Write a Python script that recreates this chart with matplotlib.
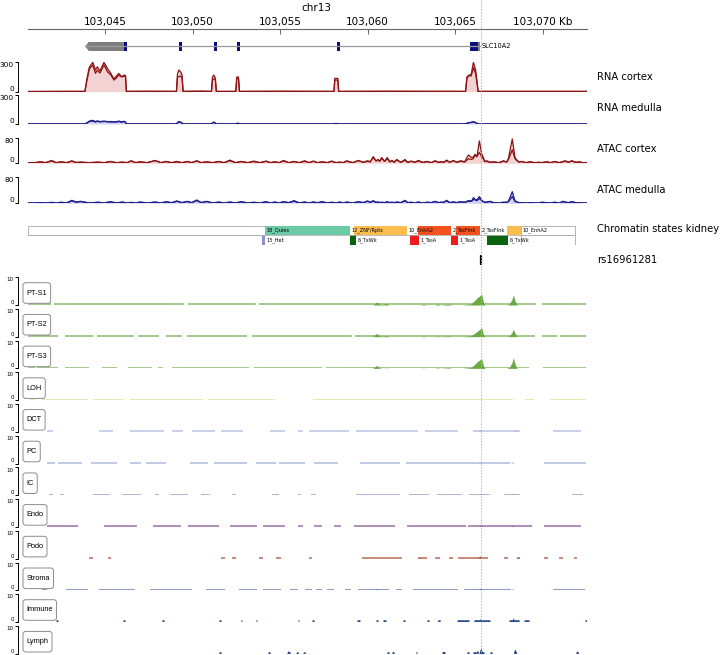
import matplotlib
matplotlib.use("Agg")
import numpy as np
from matplotlib import pyplot as plt
from matplotlib.patches import Rectangle, Polygon, FancyBboxPatch

plt.rcParams["font.family"] = ["DejaVu Sans"]

W, H = 720, 655

# --- data: positions are kb past chr13:103,000 kb --------------------------
X_RANGE = (40.58, 72.54)
TICK_POS = [45, 50, 55, 60, 65, 70]
TICK_LABELS = ["103,045", "103,050", "103,055", "103,060", "103,065", "103,070 Kb"]
SNP_POS = 66.49
SNP_NAME = "rs16961281"

GENE_NAME = "SLC10A2"
GENE_START, GENE_END = 43.87, 66.40
UTR_START = [43.87, 66.29]
UTR_END = [46.10, 66.40]
EXON_START = [46.10, 49.23, 51.23, 52.56, 58.26, 65.86]
EXON_END = [46.25, 49.38, 51.38, 52.70, 58.40, 66.29]

RNA_POS = [40.6, 43.0, 43.85, 43.95, 44.1, 44.3, 44.45, 44.56, 44.71, 44.94,
           45.13, 45.33, 45.51, 45.65, 45.78, 45.95, 46.09, 46.17, 46.22, 47.5,
           49.08, 49.14, 49.22, 49.32, 49.40, 49.46, 50.5, 51.08, 51.14, 51.22,
           51.30, 51.36, 52.47, 52.53, 52.62, 52.68, 55.0, 58.08, 58.13, 58.30,
           58.35, 61.0, 65.60, 65.68, 65.80, 65.92, 66.05, 66.18, 66.32, 70.0,
           72.55]
RNA_CTX_R1 = [2, 3, 3, 120, 250, 300, 222, 255, 211, 300,
              239, 187, 130, 160, 187, 153, 170, 165, 3, 4,
              3, 180, 222, 200, 170, 3, 5, 3, 150, 170,
              140, 3, 3, 150, 150, 3, 4, 3, 136, 136,
              3, 4, 3, 150, 170, 175, 300, 220, 3, 3,
              3]
RNA_CTX_R2 = [2, 3, 3, 100, 230, 273, 187, 220, 190, 273,
              205, 170, 119, 140, 170, 150, 160, 150, 3, 4,
              3, 150, 153, 160, 140, 3, 5, 3, 120, 130,
              125, 3, 3, 140, 145, 3, 4, 3, 119, 119,
              3, 4, 3, 140, 164, 160, 245, 180, 3, 3,
              3]
RNA_MED_R1 = [1, 1, 1, 10, 30, 38, 25, 32, 25, 30,
              22, 26, 20, 25, 30, 22, 28, 20, 1, 1,
              1, 15, 25, 20, 10, 1, 1, 1, 12, 20,
              10, 1, 1, 6, 8, 1, 1, 1, 5, 5,
              1, 1, 1, 8, 15, 15, 25, 15, 1, 1,
              1]
RNA_MED_R2 = [1, 1, 1, 8, 25, 30, 20, 28, 22, 26,
              26, 20, 24, 20, 25, 18, 24, 18, 1, 1,
              1, 12, 20, 15, 8, 1, 1, 1, 10, 15,
              8, 1, 1, 5, 6, 1, 1, 1, 4, 4,
              1, 1, 1, 6, 12, 18, 20, 12, 1, 1,
              1]

ATAC_POS = [40.6, 41.0, 41.3, 41.6, 41.95, 42.2, 42.5, 42.8, 43.1, 43.35,
            43.6, 44.1, 44.6, 44.95, 45.3, 45.65, 46.0, 46.25, 46.5, 46.75,
            47.0, 47.4, 47.86, 48.2, 48.5, 48.8, 49.1, 49.4, 49.7, 49.95,
            50.24, 50.5, 50.8, 51.15, 51.5, 51.8, 52.14, 52.45, 52.8, 53.15,
            53.5, 53.85, 54.2, 54.45, 54.7, 54.95, 55.2, 55.5, 55.8, 56.1,
            56.4, 56.65, 56.9, 57.15, 57.4, 57.7, 57.95, 58.2, 58.4, 58.6,
            58.81, 59.15, 59.48, 59.75, 60.0, 60.15, 60.33, 60.48, 60.6, 60.7,
            60.81, 60.97, 61.13, 61.27, 61.4, 61.52, 61.67, 61.9, 62.14, 62.3,
            62.5, 62.7, 62.9, 63.15, 63.4, 63.65, 63.86, 64.05, 64.2, 64.35,
            64.52, 64.7, 64.9, 65.1, 65.3, 65.55, 65.76, 65.95, 66.05, 66.14,
            66.25, 66.39, 66.52, 66.6, 66.7, 66.81, 67.0, 67.2, 67.5, 67.76,
            67.95, 68.05, 68.27, 68.42, 68.5, 68.65, 68.81, 69.05, 69.29, 69.55,
            69.8, 69.95, 70.24, 70.45, 70.7, 70.95, 71.19, 71.29, 71.48, 71.67,
            71.9, 72.1, 72.3, 72.55]
ATAC_CTX_R1 = [2, 2, 5, 2, 9, 2, 4, 2, 8, 2,
               3, 2, 4, 2, 5, 2, 4, 2, 8, 2,
               5, 2, 9, 2, 5, 2, 6, 2, 5, 2,
               8, 2, 5, 2, 6, 2, 10, 2, 5, 2,
               7, 2, 6, 2, 5, 2, 9, 2, 6, 2,
               8, 2, 6, 2, 4, 2, 7, 2, 4, 2,
               8, 2, 8, 3, 6, 4, 21, 7, 10, 6,
               16, 6, 18, 4, 8, 3, 10, 3, 12, 3,
               6, 3, 7, 2, 5, 2, 7, 3, 5, 3,
               10, 3, 8, 3, 6, 4, 14, 12, 15, 26,
               20, 70, 30, 20, 6, 8, 3, 4, 2, 8,
               4, 15, 76, 20, 12, 4, 6, 2, 5, 2,
               3, 2, 4, 2, 5, 2, 6, 8, 4, 7,
               3, 5, 2, 2]
ATAC_CTX_R2 = [2, 2, 4, 2, 7, 2, 5, 2, 6, 3,
               4, 2, 3, 2, 6, 2, 3, 2, 7, 2,
               4, 2, 8, 2, 6, 2, 4, 2, 6, 2,
               7, 2, 4, 2, 5, 2, 8, 2, 6, 2,
               5, 2, 7, 2, 4, 2, 7, 2, 5, 2,
               6, 2, 7, 2, 5, 2, 6, 2, 3, 2,
               6, 2, 9, 3, 8, 5, 18, 8, 12, 7,
               18, 6, 14, 5, 9, 4, 12, 3, 9, 3,
               7, 3, 9, 3, 6, 2, 8, 3, 4, 3,
               8, 3, 9, 3, 8, 5, 26, 18, 20, 28,
               22, 34, 20, 15, 5, 6, 3, 5, 2, 6,
               4, 12, 42, 15, 10, 4, 5, 2, 4, 2,
               3, 2, 5, 2, 6, 2, 5, 6, 3, 8,
               3, 4, 2, 2]
ATAC_MED_R1 = [1, 1, 2, 1, 3, 1, 3, 1, 9, 4,
               6, 1, 3, 1, 5, 1, 3, 1, 3, 1,
               4, 1, 3, 1, 5, 2, 7, 2, 6, 2,
               10, 2, 6, 1, 3, 1, 4, 1, 4, 1,
               3, 1, 5, 1, 3, 1, 5, 2, 8, 1,
               3, 1, 4, 2, 5, 1, 3, 1, 3, 1,
               4, 1, 4, 2, 7, 3, 8, 3, 4, 2,
               3, 2, 4, 2, 3, 2, 4, 2, 9, 2,
               3, 1, 3, 1, 3, 2, 6, 2, 3, 3,
               9, 2, 4, 2, 4, 3, 8, 7, 17, 12,
               10, 20, 10, 6, 3, 4, 6, 2, 1, 3,
               3, 6, 35, 8, 5, 2, 2, 1, 2, 1,
               1, 3, 2, 1, 3, 1, 6, 4, 2, 5,
               2, 2, 1, 1]
ATAC_MED_R2 = [1, 1, 2, 1, 2, 1, 3, 1, 7, 3,
               5, 1, 3, 1, 4, 1, 4, 1, 2, 1,
               3, 1, 4, 1, 4, 1, 6, 2, 5, 2,
               8, 2, 5, 1, 4, 1, 3, 1, 5, 1,
               3, 1, 4, 1, 4, 1, 4, 2, 6, 1,
               4, 1, 3, 1, 4, 1, 3, 1, 4, 1,
               3, 1, 5, 2, 6, 3, 6, 3, 3, 2,
               3, 2, 5, 2, 3, 2, 3, 2, 7, 2,
               3, 1, 4, 1, 3, 2, 5, 2, 3, 3,
               7, 2, 4, 2, 5, 3, 6, 6, 12, 10,
               8, 14, 8, 5, 3, 3, 5, 2, 1, 3,
               3, 5, 20, 6, 4, 2, 2, 1, 2, 1,
               1, 3, 2, 1, 3, 1, 5, 3, 2, 4,
               2, 2, 1, 1]

# chromatin states (18-state model), two display rows
ROW1_START = [40.58, 54.14, 59.23, 62.89, 65.06, 67.97, 68.77]
ROW1_END = [54.14, 59.00, 62.26, 64.77, 66.43, 68.77, 71.86]
ROW1_STATE = ["18_Quies", "12_ZNF/Rpts", "10_EnhA2", "2_TssFlnk", "2_TssFlnk",
              "10_EnhA2", "18_Quies"]
ROW2_START = [53.97, 59.00, 62.43, 64.77, 66.83, 68.77]
ROW2_END = [54.14, 59.34, 62.94, 65.17, 68.03, 71.86]
ROW2_STATE = ["13_Het", "6_TxWk", "1_TssA", "1_TssA", "6_TxWk", "18_Quies"]
STATE_COLORS = {"1_TssA": "#ee1c1c", "2_TssFlnk": "#f4511e", "6_TxWk": "#0a640f",
                "10_EnhA2": "#fbbd4e", "12_ZNF/Rpts": "#6acba6",
                "13_Het": "#8d92cc", "18_Quies": "#ffffff"}

# single-cell ATAC (0-10 scale)
CELL_TYPES = ["PT-S1", "PT-S2", "PT-S3", "LOH", "DCT", "PC", "IC", "Endo",
              "Podo", "Stroma", "Immune", "Lymph"]
CELL_COLORS = ["#6aaa45", "#6aaa45", "#6aaa45", "#cfdf85", "#a7b4de", "#98aad4",
               "#8f80c4", "#7d4c8f", "#a8442e", "#445f9f", "#264b8c", "#1c3a7c"]

PT_POS = [60.30, 60.52, 60.72, 60.90, 61.06, 61.25, 63.05, 63.19, 63.35, 63.85,
          63.99, 64.15, 64.55, 64.68, 64.82, 65.40, 65.86, 66.05, 66.24, 66.35,
          66.52, 66.62, 66.72, 67.95, 68.10, 68.25, 68.33, 68.45, 68.56]
PT_S1 = [0, 1.1, 0.2, 0.2, 0.7, 0, 0, 0.3, 0, 0,
         0.4, 0, 0.3, 0.3, 0, 0, 0.3, 1.2, 2.4, 3.0,
         4.0, 1.0, 0, 0, 0.4, 2.0, 3.6, 1.2, 0]
PT_S2 = [0, 1.2, 0.2, 0.1, 0.4, 0, 0, 0.2, 0, 0,
         0.2, 0, 0.2, 0.2, 0, 0, 0.3, 0.9, 1.8, 2.3,
         3.3, 0.8, 0, 0, 0.3, 1.5, 2.7, 1.0, 0]
PT_S3 = [0, 1.1, 0.1, 0, 0.1, 0, 0, 0.1, 0, 0,
         0.2, 0, 0.2, 0.2, 0, 0, 0.3, 1.0, 2.2, 2.8,
         3.6, 1.0, 0, 0, 0.4, 2.0, 3.9, 1.2, 0]

SEG_PT_S1 = [(40.6, 41.9), (42.1, 49.5), (49.75, 53.6), (53.8, 69.65), (69.95, 72.5)]
SEG_PT_S2 = [(40.6, 42.3), (42.7, 44.3), (44.55, 46.65), (46.9, 48.1), (48.5, 49.4),
             (49.7, 53.1), (53.4, 59.1), (59.3, 69.55), (69.95, 70.8), (71.0, 72.5)]
SEG_PT_S3 = [(40.6, 41.0), (41.1, 42.3), (42.7, 44.1), (44.8, 45.7), (46.3, 47.7),
             (48.0, 48.3), (48.8, 53.2), (53.5, 57.4), (57.65, 69.25), (70.05, 72.5)]
SEG_LOH = [(40.7, 41.0), (41.4, 44.0), (44.3, 46.1), (46.4, 50.6), (50.9, 54.7),
           (56.9, 68.3), (69.0, 69.5), (70.4, 72.5)]
SEG_DCT = [(41.71, 42.02), (44.63, 45.46), (46.41, 48.39), (48.81, 49.43), (49.95, 51.31),
           (51.63, 52.88), (54.44, 55.28), (56.01, 56.32), (56.64, 58.93), (59.35, 62.90),
           (63.31, 65.19), (66.03, 68.74), (70.62, 72.19)]
SEG_PC = [(41.71, 42.12), (42.33, 43.69), (44.21, 45.67), (46.41, 47.03), (47.34, 48.49),
          (49.85, 50.89), (51.21, 53.09), (53.61, 54.76), (54.96, 56.43), (56.95, 58.31),
          (59.56, 61.85), (62.17, 68.12), (70.10, 72.5)]
SEG_IC = [(41.81, 42.02), (42.44, 42.65), (44.32, 45.26), (45.99, 47.03), (47.87, 48.08),
          (48.70, 49.75), (50.48, 51.0), (52.25, 52.46), (54.55, 54.96), (56.01, 56.22),
          (56.74, 57.05), (59.35, 61.85), (62.38, 63.52), (63.94, 65.4), (65.82, 66.97),
          (67.8, 68.74), (71.67, 72.29)]
SEG_ENDO = [(41.71, 43.48), (44.94, 46.82), (47.76, 49.33), (49.75, 51.52), (52.15, 53.71),
            (54.03, 55.28), (56.01, 56.32), (56.95, 57.37), (58.1, 58.51), (59.24, 61.54),
            (62.27, 65.61), (65.72, 69.37), (70.1, 72.19)]
SEG_PODO = [(44.11, 44.32), (45.15, 45.36), (51.63, 51.83), (52.25, 52.46), (53.82, 54.03),
            (54.76, 55.07), (56.64, 56.84), (59.66, 61.96), (62.9, 63.42), (63.84, 64.15),
            (64.67, 64.88), (65.19, 66.86), (67.8, 68.01), (68.53, 68.74), (70.1, 70.31),
            (70.94, 71.14), (71.77, 71.98)]
SEG_STROMA = [(41.4, 41.71), (42.75, 44.0), (44.63, 46.72), (47.55, 49.95), (50.79, 51.83),
              (52.67, 53.71), (54.03, 55.07), (55.59, 56.01), (56.43, 56.84), (57.05, 57.37),
              (57.68, 58.1), (58.72, 59.03), (59.45, 61.23), (61.65, 61.96), (62.59, 65.19),
              (65.51, 68.22), (70.62, 72.4)]
SEG_IMMUNE = [(42.2, 42.3), (46.05, 46.15), (48.25, 48.35), (51.5, 51.6), (52.75, 52.85),
              (53.6, 53.7), (56.0, 56.1), (56.8, 56.95), (59.4, 59.55), (60.5, 60.6),
              (60.9, 61.05), (62.05, 62.15), (63.4, 63.5), (64.0, 64.15), (65.1, 65.8),
              (66.1, 67.0), (68.1, 68.65), (68.95, 69.2), (72.45, 72.52)]
SEG_LYMPH = [(51.5, 51.6), (54.3, 54.4), (55.45, 55.55), (55.95, 56.05), (56.35, 56.45),
             (61.1, 61.2), (61.4, 61.5), (62.75, 62.85), (64.3, 64.4), (65.7, 65.8),
             (66.05, 66.2), (66.4, 66.65), (67.0, 67.1), (68.4, 68.5), (71.95, 72.05)]

PEAK_DCT = [(66.45, 0.6), (68.45, 0.4)]
PEAK_PC = [(66.45, 0.3), (68.3, 0.4)]
PEAK_IC = [(66.5, 0.5), (68.3, 0.3)]
PEAK_ENDO = [(66.5, 0.6), (68.3, 0.3)]
PEAK_PODO = [(63.0, 0.3), (66.45, 0.8), (68.6, 0.3)]
PEAK_STROMA = [(60.5, 0.4), (66.45, 0.6), (68.3, 0.3)]
PEAK_IMMUNE = [(64.1, 0.5), (65.6, 0.4), (66.2, 0.6), (66.45, 1.0), (68.35, 1.3), (68.6, 0.6)]
PEAK_LYMPH = [(55.5, 0.9), (56.0, 0.5), (56.4, 0.5), (64.35, 0.8), (66.3, 1.0),
              (66.5, 2.0), (68.45, 1.5), (72.0, 0.8)]

CTX_LINE, CTX_FILL = "#8c1414", "#f2d2d2"
MED_LINE, MED_FILL = "#1e1e8e", "#cfd3ef"

# --- layout helpers (pixel boxes, origin top-left) ------------------------
X0_PX, X1_PX = 27.7, 587.0

fig = plt.figure(figsize=(W / 100, H / 100), dpi=100)


def px_axes(y0, y1, x0=X0_PX, x1=X1_PX):
    ax = fig.add_axes([x0 / W, 1 - y1 / H, (x1 - x0) / W, (y1 - y0) / H])
    ax.set_xlim(*X_RANGE)
    ax.patch.set_alpha(0)
    return ax


def right_label(text, y):
    fig.text(597 / W, 1 - y / H, text, fontsize=7.2, va="center", ha="left")


def bracket(ax, ymax, labelsize, outward=7, ticklen=2.0):
    ax.set_ylim(0, ymax)
    for s in ("top", "right", "bottom"):
        ax.spines[s].set_visible(False)
    ax.spines["left"].set_position(("outward", outward))
    ax.spines["left"].set_linewidth(0.7)
    ax.set_xticks([])
    ax.set_yticks([0, ymax], ["0", str(ymax)])
    ax.tick_params(axis="y", length=ticklen, width=0.7, labelsize=labelsize, pad=0.8)
    lo, hi = ax.get_yticklabels()
    lo.set_va("bottom")
    hi.set_va("top")


# --- ruler ------------------------------------------------------------------
fig.text(316 / W, 1 - 8 / H, "chr13", fontsize=7.5, ha="center", va="center")
axr = px_axes(28.6, 29.4)
for s in ("left", "right", "top"):
    axr.spines[s].set_visible(False)
axr.spines["bottom"].set_color("#666666")
axr.spines["bottom"].set_linewidth(0.8)
axr.set_yticks([])
axr.set_xticks(TICK_POS, TICK_LABELS)
axr.tick_params(axis="x", direction="out", length=3.5, width=0.7, color="#666666",
                bottom=True, top=False, labelbottom=False, labeltop=True,
                labelsize=7.5, pad=-2.4)

# --- gene -------------------------------------------------------------------
axg = px_axes(41.7, 51.0)
axg.axis("off")
axg.set_ylim(0, 1)
axg.plot([GENE_START, GENE_END], [0.5, 0.5], color="#9a9a9a", lw=0.9)
s, e = UTR_START[0], UTR_END[0]
axg.add_patch(Polygon([(s, 0.5), (s + 0.2, 1), (e, 1), (e, 0), (s + 0.2, 0)],
                      closed=True, fc="#7f7f7f", ec="none"))
axg.add_patch(Rectangle((UTR_START[1], 0), UTR_END[1] - UTR_START[1], 1,
                        fc="#7f7f7f", ec="none"))
for s, e in zip(EXON_START, EXON_END):
    axg.add_patch(Rectangle((s, 0), e - s, 1, fc="#0c0c82", ec="none"))
axg.annotate(GENE_NAME, (GENE_END, 0.5), xytext=(1.5, 0), textcoords="offset points",
             fontsize=4.8, va="center", ha="left", annotation_clip=False)

# --- bulk RNA / ATAC tracks -------------------------------------------------
bulk = [
    ("RNA cortex", RNA_POS, RNA_CTX_R1, RNA_CTX_R2, 300, CTX_LINE, CTX_FILL, 62.3, 91.7, 76.7),
    ("RNA medulla", RNA_POS, RNA_MED_R1, RNA_MED_R2, 300, MED_LINE, MED_FILL, 95.0, 124.0, 108),
    ("ATAC cortex", ATAC_POS, ATAC_CTX_R1, ATAC_CTX_R2, 80, CTX_LINE, CTX_FILL, 137.7, 163.3, 149),
    ("ATAC medulla", ATAC_POS, ATAC_MED_R1, ATAC_MED_R2, 80, MED_LINE, MED_FILL, 176.7, 203.3, 190),
]
for name, pos, r1, r2, ymax, lc, fc, y0, y1, ly in bulk:
    ax = px_axes(y0, y1)
    bracket(ax, ymax, 5.4)
    ax.fill_between(pos, np.maximum(r1, r2), color=fc, lw=0)
    ax.plot(pos, r2, color=lc, lw=0.9)
    ax.plot(pos, r1, color=lc, lw=0.9)
    right_label(name, ly)

# --- chromatin states -------------------------------------------------------
axc = px_axes(225.7, 244.5)
axc.axis("off")
axc.set_ylim(0, 2)
axc.plot([X_RANGE[0], ROW1_END[-1]], [1, 1], color="#b0b0b0", lw=0.6)
for starts, ends, states, y0 in ((ROW1_START, ROW1_END, ROW1_STATE, 1),
                                 (ROW2_START, ROW2_END, ROW2_STATE, 0)):
    for s, e, st in zip(starts, ends, states):
        quies = st == "18_Quies"
        axc.add_patch(Rectangle((s, y0), e - s, 1, fc=STATE_COLORS[st],
                                ec="#a8a8a8" if quies else "none", lw=0.6))
    for s, e, st in zip(starts, ends, states):
        if e < X_RANGE[1] - 1:
            axc.annotate(st, (e, y0 + 0.5), xytext=(1.2, 0), textcoords="offset points",
                         fontsize=3.6, va="center", ha="left", annotation_clip=False)
right_label("Chromatin states kidney", 229.3)

# --- SNP --------------------------------------------------------------------
axs = px_axes(255, 265)
axs.axis("off")
axs.set_ylim(0, 1)
axs.vlines([SNP_POS], 0, 1, color="black", lw=1.6)
right_label(SNP_NAME, 260)

# --- single-cell tracks -----------------------------------------------------
cells = [
    (SEG_PT_S1, PT_S1, []), (SEG_PT_S2, PT_S2, []), (SEG_PT_S3, PT_S3, []),
    (SEG_LOH, None, []), (SEG_DCT, None, PEAK_DCT), (SEG_PC, None, PEAK_PC),
    (SEG_IC, None, PEAK_IC), (SEG_ENDO, None, PEAK_ENDO), (SEG_PODO, None, PEAK_PODO),
    (SEG_STROMA, None, PEAK_STROMA), (SEG_IMMUNE, None, PEAK_IMMUNE),
    (SEG_LYMPH, None, PEAK_LYMPH),
]
renderer = fig.canvas.get_renderer()
for k, (name, color, (segs, profile, peaks)) in enumerate(zip(CELL_TYPES, CELL_COLORS, cells)):
    top = 277.3 + 31.7 * k
    bot = top + 27.7
    ax = px_axes(top, bot)
    bracket(ax, 10, 4, outward=7.3)
    heavy = name in ("Immune", "Lymph")
    ax.hlines([0.2] * len(segs), [a for a, b in segs], [b for a, b in segs],
              color=color, lw=1.8 if heavy else 1.1, alpha=1.0 if heavy else 0.8)
    if profile is not None:
        ax.fill_between(PT_POS, profile, color=color, lw=0)
    for p, h in peaks:
        ax.fill([p - 0.1, p, p + 0.1], [0, h, 0], color=color, lw=0)
    # name box
    t = fig.text((23 + 3.5) / W, 1 - (top + 5.4 + bot - 1.7) / 2 / H, name,
                 fontsize=5.3, family="Liberation Sans", va="center", ha="left", zorder=5)
    bb = t.get_window_extent(renderer)
    box = FancyBboxPatch((23 / W, 1 - (bot - 1.7) / H), (bb.width + 7) / W,
                         (bot - 1.7 - top - 5.4) / H,
                         boxstyle="round,pad=0,rounding_size=0.004",
                         transform=fig.transFigure, fc="white", ec="#8c8c8c",
                         lw=0.7, zorder=4)
    fig.add_artist(box)

# --- SNP guide line over everything -----------------------------------------
axv = fig.add_axes([X0_PX / W, 0, (X1_PX - X0_PX) / W, 1])
axv.set_xlim(*X_RANGE)
axv.axis("off")
axv.axvline(SNP_POS, color="#aeb2c8", lw=0.6, ls=(0, (2, 1.5)))

fig.savefig("out.png", dpi=100)
plt.close(fig)
